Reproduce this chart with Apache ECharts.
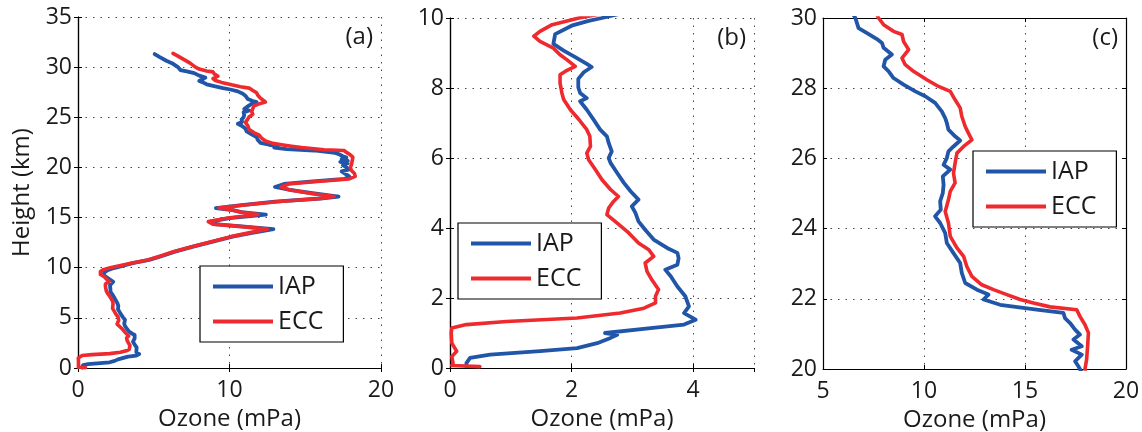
<!DOCTYPE html>
<html>
<head>
<meta charset="utf-8">
<script src="https://cdn.jsdelivr.net/npm/echarts@6/dist/echarts.min.js"></script>
<style>
  html, body { margin: 0; padding: 0; background: #ffffff; }
  #chart { width: 1142px; height: 432px; }
</style>
</head>
<body>
<div id="chart"></div>
<script>
// Ozone partial pressure profiles (mPa) against height (km), IAP and ECC sondes.
const iapHeight = [
  0.05, 0.14, 0.29, 0.38, 0.48, 0.57, 0.71, 0.86, 0.95, 1.00, 1.05, 1.14, 1.24, 1.38, 1.57, 1.76,
  2.05, 2.33, 2.62, 2.81, 2.95, 3.14, 3.29, 3.43, 3.67, 3.95, 4.19, 4.43, 4.62, 4.81, 5.05, 5.29,
  5.57, 5.86, 6.00, 6.19, 6.43, 6.62, 6.81, 7.10, 7.38, 7.62, 7.71, 7.86, 8.02, 8.26, 8.45, 8.60,
  8.69, 8.88, 9.07, 9.26, 9.54, 9.78, 9.92, 10.0,
  10.45, 10.78, 11.1, 11.6, 12.1, 12.6, 13.1, 13.45, 13.85, 14.1, 14.35, 14.6, 14.95, 15.3, 15.55,
  15.75, 15.95, 16.25, 16.6, 16.9, 17.1, 17.4, 17.75, 18.05, 18.35, 18.6, 18.85, 19.1, 19.4, 19.6, 19.8,
  20.08, 20.22, 20.41, 20.55, 20.65, 20.84, 20.98, 21.12, 21.31, 21.45, 21.60, 21.69, 21.83, 21.98,
  22.12, 22.26, 22.45, 22.74, 23.02, 23.30, 23.59, 23.87, 24.16, 24.35, 24.54, 24.78, 25.01, 25.25,
  25.49, 25.68, 25.82, 26.01, 26.20, 26.34, 26.51, 26.63, 26.82, 27.01, 27.15, 27.34, 27.58, 27.77,
  27.91, 28.10, 28.29, 28.48, 28.62, 28.81, 28.96, 29.15, 29.29, 29.40, 29.57, 29.71, 30.00,
  30.4, 30.64, 31.0, 31.3
];
const iapOzone = [
  0.27, 0.27, 0.33, 0.66, 1.48, 2.09, 2.42, 2.64, 2.75, 2.55, 2.58, 3.30, 3.85, 4.04, 3.85, 3.93,
  3.87, 3.74, 3.63, 3.54, 3.74, 3.76, 3.74, 3.57, 3.35, 3.21, 3.10, 3.05, 2.99, 3.10, 2.97, 2.86,
  2.75, 2.64, 2.61, 2.66, 2.61, 2.58, 2.47, 2.36, 2.25, 2.14, 2.25, 2.14, 2.11, 2.11, 2.20, 2.33,
  2.25, 2.06, 1.87, 1.70, 1.73, 2.00, 2.28, 2.50,
  3.6, 4.7, 5.4, 6.4, 7.6, 8.9, 10.2, 11.4, 12.9, 11.0, 9.0, 8.75, 10.0, 12.4, 10.8,
  10.2, 9.1, 10.8, 13.0, 16.0, 17.2, 15.6, 14.0, 13.0, 13.6, 15.5, 17.6, 17.9, 17.6, 17.4, 17.9,
  17.64, 17.48, 17.81, 17.31, 17.81, 17.40, 17.72, 17.48, 17.23, 16.98, 16.90, 15.58, 13.77, 12.95,
  13.19, 12.62, 12.04, 11.87, 11.79, 11.46, 11.13, 11.05, 10.80, 10.55, 10.83, 10.80, 10.93, 10.97,
  10.93, 11.30, 10.97, 11.13, 11.21, 11.46, 11.79, 11.54, 11.21, 11.13, 11.05, 10.88, 10.55, 10.06,
  9.57, 8.99, 8.49, 8.25, 8.00, 8.08, 8.41, 8.00, 7.92, 7.67, 7.18, 6.76, 6.60,
  6.2, 5.83, 5.4, 5.06
];
const eccHeight = [
  0.04, 0.07, 0.14, 0.33, 0.48, 0.71, 1.00, 1.14, 1.24, 1.33, 1.43, 1.57, 1.71, 1.86, 2.05, 2.24,
  2.52, 2.76, 3.00, 3.19, 3.38, 3.57, 3.86, 4.14, 4.38, 4.57, 4.76, 4.90, 5.10, 5.38, 5.67, 5.95,
  6.14, 6.33, 6.62, 6.81, 7.10, 7.38, 7.67, 7.86, 8.14, 8.38, 8.48, 8.62, 8.81, 8.95, 9.14, 9.33,
  9.48, 9.62, 9.81, 10.0,
  10.45, 10.78, 11.1, 11.6, 12.1, 12.6, 13.1, 13.45, 13.85, 14.1, 14.35, 14.6, 14.95, 15.3, 15.55,
  15.75, 15.95, 16.25, 16.6, 16.9, 17.1, 17.4, 17.75, 18.05, 18.35, 18.6, 18.85, 19.1, 19.4, 19.7,
  20.0, 20.27, 20.65, 21.03, 21.26, 21.50, 21.69, 21.77, 21.88, 21.98, 22.12, 22.26, 22.40, 22.64,
  22.92, 23.21, 23.45, 23.78, 24.16, 24.49, 24.82, 25.06, 25.30, 25.58, 25.87, 26.15, 26.34, 26.53,
  26.72, 26.91, 27.20, 27.44, 27.67, 27.91, 28.05, 28.24, 28.48, 28.67, 28.86, 29.10, 29.33, 29.53,
  29.62, 29.81, 30.00,
  30.4, 30.75, 31.1, 31.37
];
const eccOzone = [
  0.49, 0.03, 0.05, 0.03, 0.11, 0.03, 0.02, 0.03, 0.27, 0.93, 2.09, 2.80, 3.19, 3.38, 3.38, 3.43,
  3.32, 3.24, 3.21, 3.35, 3.27, 3.10, 2.94, 2.75, 2.58, 2.61, 2.69, 2.77, 2.64, 2.50, 2.39, 2.28,
  2.25, 2.31, 2.30, 2.25, 2.12, 1.98, 1.87, 1.84, 1.81, 1.81, 1.90, 2.06, 1.92, 1.81, 1.70, 1.48,
  1.38, 1.48, 1.68, 2.12,
  3.5, 4.6, 5.3, 6.3, 7.5, 8.8, 10.1, 11.2, 12.5, 10.8, 8.9, 8.6, 9.9, 11.9, 10.7,
  10.2, 9.3, 11.0, 13.3, 16.0, 16.9, 15.4, 14.0, 13.4, 13.9, 15.8, 17.9, 18.3, 18.25, 18.05,
  17.97, 18.05, 18.10, 18.14, 17.97, 17.72, 17.56, 16.24, 15.42, 14.76, 14.10, 13.44, 12.86, 12.37,
  12.12, 11.96, 11.63, 11.30, 11.21, 11.05, 11.21, 11.30, 11.54, 11.46, 11.54, 11.63, 11.96, 12.37,
  12.20, 12.04, 11.87, 11.79, 11.54, 11.30, 10.72, 10.14, 9.48, 9.07, 8.91, 9.24, 8.99, 8.91,
  8.49, 8.00, 7.75,
  7.4, 7.0, 6.6, 6.27
];

// Panel axis ranges: [min, max, interval]
const panelTags = ['(a)', '(b)', '(c)'];
const ozoneRanges = [[0, 20, 10], [0, 5, 2], [5, 20, 5]];
const heightRanges = [[0, 35, 5], [0, 10, 2], [20, 30, 2]];
const seriesNames = ['IAP', 'ECC'];

const FONT = 'Open Sans';
const BLUE = '#2155A8';
const RED = '#EE2A2E';
const INK = '#1a1a1a';

// Plot rectangles for the three panels
const grids = [
  { left: 78, top: 17, width: 303, height: 351 },
  { left: 450, top: 18, width: 304, height: 350 },
  { left: 823, top: 18, width: 303, height: 351 }
];
// Legend box placement in each panel
const legendPos = [
  { left: 200, top: 266 },
  { left: 458, top: 223 },
  { left: 973, top: 151 }
];

function pairs(ozone, height) {
  return height.map((h, i) => [ozone[i], h]);
}
const iapData = pairs(iapOzone, iapHeight);
const eccData = pairs(eccOzone, eccHeight);

const xAxes = [], yAxes = [], series = [], legends = [], graphics = [];

grids.forEach((g, k) => {
  const [xmin, xmax, xint] = ozoneRanges[k];
  const [ymin, ymax, yint] = heightRanges[k];
  const line = { show: true, lineStyle: { color: '#000', width: 1.2 } };
  const tick = { show: true, inside: true, length: 4, lineStyle: { color: '#000', width: 1 } };
  const dots = { type: [1.5, 6], color: '#444', width: 1 };

  xAxes.push({
    type: 'value', gridIndex: k, position: 'bottom', min: xmin, max: xmax, interval: xint,
    name: 'Ozone (mPa)', nameLocation: 'middle', nameGap: 37,
    nameTextStyle: { fontFamily: FONT, fontSize: 24, color: INK },
    axisLine: line, axisTick: tick,
    axisLabel: { fontFamily: FONT, fontSize: 23, color: INK, margin: 11, showMaxLabel: xmax % xint === 0 },
    splitLine: { show: true, lineStyle: dots }
  });
  yAxes.push({
    type: 'value', gridIndex: k, position: 'left', min: ymin, max: ymax, interval: yint,
    name: k === 0 ? 'Height (km)' : '', nameLocation: 'middle', nameGap: 44,
    nameTextStyle: { fontFamily: FONT, fontSize: 24, color: INK },
    axisLine: line, axisTick: tick,
    axisLabel: { fontFamily: FONT, fontSize: 23, color: INK, margin: 6 },
    splitLine: { show: true, lineStyle: dots }
  });

  series.push({
    name: seriesNames[0], type: 'line', xAxisIndex: k, yAxisIndex: k, data: iapData,
    showSymbol: false, symbol: 'none', clip: true, z: 3,
    lineStyle: { color: BLUE, width: 3.8, join: 'round', cap: 'round' }, itemStyle: { color: BLUE },
    emphasis: { disabled: true }, animation: false
  });
  series.push({
    name: seriesNames[1], type: 'line', xAxisIndex: k, yAxisIndex: k, data: eccData,
    showSymbol: false, symbol: 'none', clip: true, z: 4,
    lineStyle: { color: RED, width: 3.6, join: 'round', cap: 'round' }, itemStyle: { color: RED },
    emphasis: { disabled: true }, animation: false
  });

  legends.push({
    data: seriesNames, orient: 'vertical', left: legendPos[k].left, top: legendPos[k].top,
    icon: 'rect', itemWidth: 60, itemHeight: 4, itemGap: 0,
    padding: [3, 20, 3, 13], backgroundColor: '#fff', borderColor: '#000', borderWidth: 1.2,
    borderRadius: 0, selectedMode: false,
    textStyle: { fontFamily: FONT, fontSize: 25, color: INK, lineHeight: 35 }
  });

  graphics.push({
    type: 'text', right: 1142 - (g.left + g.width) + 8, top: g.top + 8, z: 10,
    style: { text: panelTags[k], font: '24px "' + FONT + '"', fill: INK }
  });
});

// Mirror axes on top and right carry the inward ticks of the box frame
grids.forEach((g, k) => {
  const [xmin, xmax, xint] = ozoneRanges[k];
  const [ymin, ymax, yint] = heightRanges[k];
  const line = { show: true, lineStyle: { color: '#000', width: 1.2 } };
  const tick = { show: true, inside: true, length: 4, lineStyle: { color: '#000', width: 1 } };
  xAxes.push({ type: 'value', gridIndex: k, position: 'top', min: xmin, max: xmax, interval: xint,
    axisLine: line, axisTick: tick, axisLabel: { show: false }, splitLine: { show: false } });
  yAxes.push({ type: 'value', gridIndex: k, position: 'right', min: ymin, max: ymax, interval: yint,
    axisLine: line, axisTick: tick, axisLabel: { show: false }, splitLine: { show: false } });
});

const chart = echarts.init(document.getElementById('chart'), null, { renderer: 'canvas' });
chart.setOption({
  animation: false,
  backgroundColor: '#ffffff',
  grid: grids.map(g => Object.assign({ containLabel: false, outerBoundsMode: 'none' }, g)),
  xAxis: xAxes,
  yAxis: yAxes,
  legend: legends,
  series: series,
  graphic: graphics
});
</script>
</body>
</html>
